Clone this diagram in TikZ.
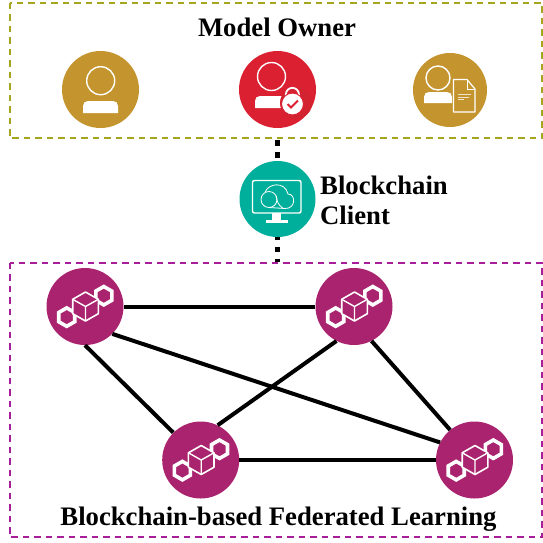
\documentclass[tikz,border=0pt]{standalone}
\usepackage{fontspec}
\setmainfont{Liberation Serif}
\definecolor{goldc}{HTML}{C4952E}
\definecolor{redc}{HTML}{DB2032}
\definecolor{redh}{HTML}{D42330}
\definecolor{tealc}{HTML}{00AF9B}
\definecolor{purc}{HTML}{A9236F}
\definecolor{olivec}{HTML}{A5A51E}
\definecolor{pdash}{HTML}{A81E9A}
\tikzset{
  x=1pt,y=-1pt,
  disc/.style={circle,inner sep=0pt,minimum size=#1,draw=none},
  link/.style={line width=4pt,black},
  dotlink/.style={line width=5.7pt,black,dash pattern=on 5.7pt off 6.3pt},
  lbl/.style={font=\fontsize{26.7}{30}\selectfont\bfseries,inner sep=0pt},
  zone/.style={line width=2pt,dash pattern=on 6.5pt off 5pt},
  icon/.style={white,line width=1.4pt},
  pics/hexes/.style={code={
    \draw[white,line width=3.6pt,line join=miter]
      (18.8,-20) -- (26.8,-15.4) -- (26.8,-6.2) -- (18.8,-1.6) -- (10.8,-6.2) -- (10.8,-15.4) -- cycle;
    \draw[white,line width=3.6pt,line join=miter]
      (-18.3,1.4) -- (-10.3,6) -- (-10.3,15.2) -- (-18.3,19.8) -- (-26.3,15.2) -- (-26.3,6) -- cycle;
    \filldraw[draw=white,fill=purc,line width=1.6pt,line join=round]
      (0.5,-14.5) -- (13.3,-7.2) -- (13.3,7.2) -- (0.5,14.5) -- (-12.3,7.2) -- (-12.3,-7.2) -- cycle;
    \draw[white,line width=1.4pt,line join=round]
      (-12.3,-7.2) -- (0.5,0) -- (13.3,-7.2) (0.5,0) -- (0.5,14.5);
  }}
}
\begin{document}
\begin{tikzpicture}
\useasboundingbox (0,0) rectangle (543,542);
% zones
\draw[zone,olivec] (9.5,2.5) rectangle (542,138);
\draw[zone,pdash] (9.5,262.5) rectangle (542,537);
% nodes
\node[disc=77pt,fill=goldc] (own1) at (100.5,89.5) {};
\node[disc=77pt,fill=redc] (own2) at (277.5,89.5) {};
\node[disc=74pt,fill=goldc] (own3) at (450,90) {};
\node[disc=76pt,fill=tealc] (client) at (277.5,199) {};
\node[disc=77pt,fill=purc] (n1) at (85,306.5) {};
\node[disc=77pt,fill=purc] (n2) at (354,306.5) {};
\node[disc=77pt,fill=purc] (n3) at (200.7,460) {};
\node[disc=77pt,fill=purc] (n4) at (474.5,460) {};
% connectors
\coordinate (ownb) at (277.5,140);
\coordinate (fedt) at (277.5,262);
\draw[dotlink] (ownb) -- (client.north);
\draw[dotlink,dash phase=2.7pt] (client.south) -- (fedt);
\draw[link] (n1.east) -- (n2.west);
\draw[link] (n3.east) -- (n4.west);
\draw[link] (n1.-90) -- (n3.135);
\draw[link] (n1.-45) -- (n4.153);
\draw[link] (n2.-117) -- (n3.64);
\draw[link] (n2.-63) -- (n4.129);
% user icon 1
\draw[icon] (100.7,80.7) circle[radius=14];
\fill[white] (83,113) -- (83,106) .. controls (83,103) and (85,101) .. (88,101) -- (113,101) .. controls (116,101) and (118,103) .. (118,106) -- (118,113) -- cycle;
% user icon 2
\draw[icon] (271.5,76.5) circle[radius=14];
\fill[white] (255,108) -- (255,101) .. controls (255,98) and (257,96) .. (260,96) -- (285,96) .. controls (288,96) and (290,98) .. (290,101) -- (290,108) -- cycle;
\fill[redh] (296,103) circle[radius=16];
\draw[white,line width=1.8pt] (285.8,98) -- (285.8,95) .. controls (285.8,85.5) and (299,85.5) .. (299,95) -- (299,98);
\filldraw[draw=redc,fill=white,line width=1pt] (292.5,104) circle[radius=11];
\draw[redc,line width=1.8pt] (287.5,104) -- (291,107.5) -- (298,100.5);
% user icon 3
\draw[icon] (438,78) circle[radius=12];
\fill[white] (424,103) -- (424,97) .. controls (424,94) and (426,92) .. (429,92) -- (447,92) .. controls (450,92) and (452,94) .. (452,97) -- (452,103) -- cycle;
\draw[white,line width=1.2pt,line join=round] (453.5,79.5) -- (467,79.5) -- (475,89) -- (475,112) -- (453.5,112) -- cycle;
\draw[white,line width=.8pt] (467,79.5) -- (467,89) -- (475,89);
\draw[white!75!goldc,line width=1pt] (458,94.5) -- (471,94.5) (458,97) -- (469,97) (458,99.5) -- (464,99.5);
% monitor icon
\draw[white,line width=1.4pt,rounded corners=2pt] (252.5,180.5) rectangle (301,213);
\fill[white] (272,213) rectangle (281,220);
\fill[white] (265.5,220) rectangle (288,223);
\draw[white,line width=.8pt] (269,199.5) circle[radius=8];
\draw[white,line width=.8pt] (265,192.5) .. controls (268,183) and (285,181) .. (288,194) .. controls (296,194) and (296,209) .. (285,208.5) -- (269,207.5);
\draw[white,line width=.8pt] (276,196) .. controls (277,201) and (278,205) .. (283,208.3);
% hex icons
\pic at (n1) {hexes};
\pic at (n2) {hexes};
\pic at (n3) {hexes};
\pic at (n4) {hexes};
% text
\node[lbl] (t1) at (277,27) {Model Owner};
\node[lbl,anchor=west] (t2) at (320,185) {Blockchain};
\node[lbl,anchor=west] (t3) at (320,215) {Client};
\node[lbl] (t4) at (278.5,519) {Blockchain-based Federated Learning};
\end{tikzpicture}
\end{document}
